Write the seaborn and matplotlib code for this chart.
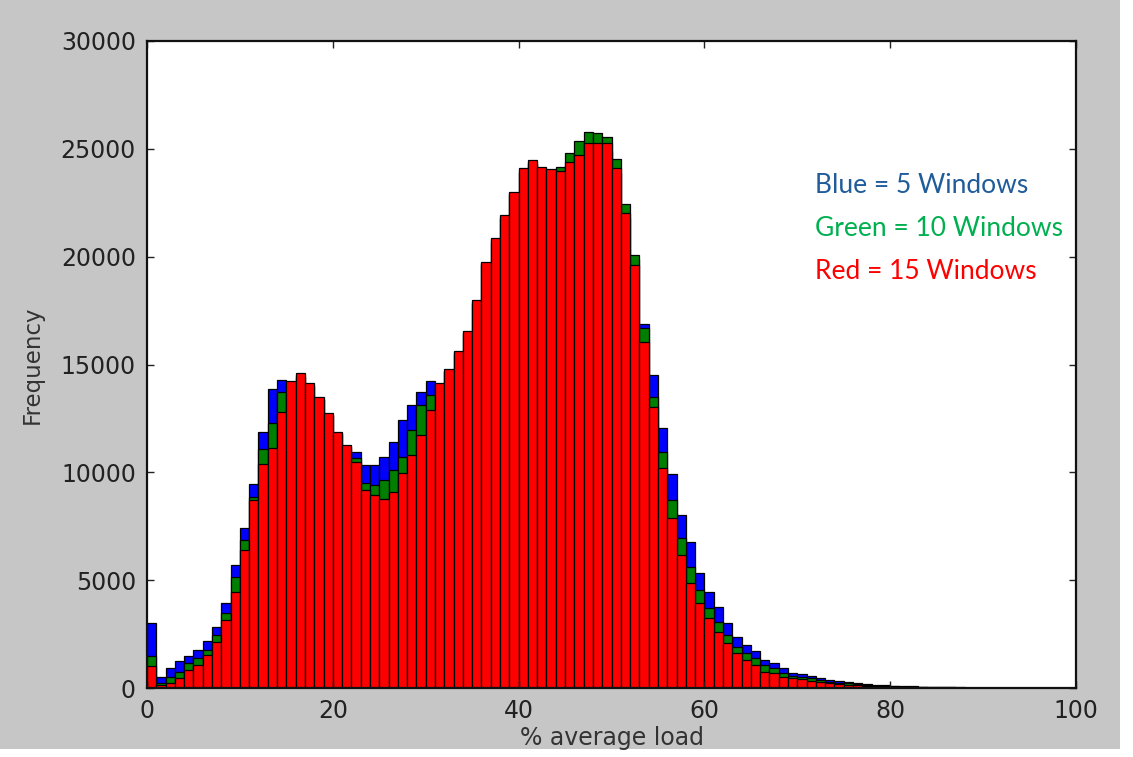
import numpy as np
import pandas as pd
import matplotlib
matplotlib.use("Agg")
import matplotlib.pyplot as plt
from matplotlib.patches import Rectangle
import seaborn as sns

# Histogram counts per 1% load bin (0-100) for each window setting
bin_edges = list(range(0, 101))

blue_5_windows = [
    3030, 500, 910, 1270, 1480, 1760, 2190, 2810, 3950, 5700,
    7400, 9460, 11880, 13850, 14280, 14100, 14400, 13950, 13350, 12600,
    11750, 11150, 10960, 10340, 10340, 10700, 11420, 12430, 13120, 13740,
    14250, 14100, 14650, 15500, 16400, 17800, 19600, 20700, 21750, 22850,
    23900, 24300, 23950, 23850, 23800, 24200, 24500, 25000, 25000, 24900,
    23900, 21800, 19900, 16880, 14510, 12040, 9920, 8020, 6780, 5320,
    4470, 3770, 3000, 2380, 1990, 1730, 1300, 1145, 910, 680,
    650, 555, 480, 370, 320, 270, 220, 180, 150, 120,
    100, 85, 70, 60, 50, 40, 32, 26, 20, 16,
    12, 10, 8, 6, 5, 4, 3, 2, 2, 1,
]

green_10_windows = [
    1480, 220, 530, 760, 1140, 1380, 1760, 2450, 3500, 5160,
    6860, 8870, 11100, 12270, 13740, 14150, 14500, 14050, 13420, 12680,
    11820, 11200, 10650, 9490, 9410, 9640, 10110, 10730, 11960, 13120,
    13590, 14100, 14700, 15580, 16500, 17900, 19700, 20800, 21850, 22950,
    24000, 24400, 24080, 24000, 24180, 24790, 25380, 25800, 25720, 25570,
    24510, 22440, 20080, 16690, 13510, 10960, 8720, 6940, 5620, 4540,
    3700, 3070, 2460, 1920, 1610, 1375, 1070, 910, 710, 555,
    525, 456, 390, 300, 250, 210, 170, 140, 110, 90,
    75, 62, 52, 44, 36, 30, 24, 19, 15, 12,
    9, 7, 6, 5, 4, 3, 2, 2, 1, 1,
]

red_15_windows = [
    1000, 140, 250, 450, 835, 1070, 1530, 2150, 3150, 4470,
    6400, 8720, 10400, 11110, 12810, 14250, 14600, 14150, 13510, 12750,
    11880, 11270, 10490, 9180, 8950, 8750, 9100, 9950, 10800, 11730,
    12890, 14160, 14780, 15640, 16570, 17990, 19770, 20850, 21930, 23010,
    24100, 24480, 24140, 24050, 23990, 24400, 24720, 25290, 25290, 25260,
    24100, 22010, 19610, 16060, 13020, 10190, 7870, 6170, 4850, 3930,
    3230, 2610, 2070, 1610, 1300, 1070, 760, 680, 525, 450,
    400, 340, 290, 220, 180, 150, 120, 95, 75, 60,
    50, 40, 33, 27, 22, 18, 14, 11, 9, 7,
    5, 4, 3, 3, 2, 2, 1, 1, 1, 0,
]

x_ticks = [0, 20, 40, 60, 80, 100]
y_ticks = [0, 5000, 10000, 15000, 20000, 25000, 30000]

legend_lines = ["Blue = 5 Windows", "Green = 10 Windows", "Red = 15 Windows"]
legend_colors = ["#1f5c99", "#00b050", "#ff0000"]

bin_centers = [e + 0.5 for e in bin_edges[:-1]]
df = pd.DataFrame({
    "load": bin_centers * 3,
    "count": blue_5_windows + green_10_windows + red_15_windows,
    "series": ["5"] * 100 + ["10"] * 100 + ["15"] * 100,
})

fig = plt.figure(figsize=(11.33, 7.57), dpi=100)
fig.patch.set_facecolor("white")
fig.patches.append(Rectangle((0, 8 / 757), 1120 / 1133, 1 - 8 / 757,
                             transform=fig.transFigure, facecolor="#c6c6c6",
                             edgecolor="none", zorder=-10))

ax = fig.add_axes([147 / 1133, 1 - 688 / 757, (1076 - 147) / 1133, (688 - 41) / 757])
ax.set_facecolor("white")

bar_colors = {"5": "#0000ff", "10": "#007f00", "15": "#ff0000"}
for key in ["5", "10", "15"]:
    sub = df[df["series"] == key]
    sns.histplot(data=sub, x="load", weights="count", bins=bin_edges,
                 stat="count", element="bars", fill=True, alpha=1.0,
                 color=bar_colors[key], edgecolor="black", linewidth=0.9,
                 ax=ax)

ax.set_xlim(0, 100)
ax.set_ylim(0, 30000)
ax.set_xticks(x_ticks)
ax.set_yticks(y_ticks)
ax.set_xticklabels([str(t) for t in x_ticks])
ax.set_yticklabels([str(t) for t in y_ticks])
ax.tick_params(direction="in", length=5, width=1, top=True, right=True,
               labelsize=17, colors="#222222", pad=8)
for s in ax.spines.values():
    s.set_linewidth(1.6)
    s.set_color("#111111")

ax.set_xlabel("% average load", fontsize=17, color="#333333", labelpad=2)
ax.set_ylabel("Frequency", fontsize=16.5, color="#333333", labelpad=12)

for i, (txt, col) in enumerate(zip(legend_lines, legend_colors)):
    ax.text(0.719, 0.776 - i * 0.066, txt, transform=ax.transAxes,
            fontsize=19, color=col, family="Lato", va="center", ha="left")

fig.savefig("out.png", dpi=100, facecolor=fig.get_facecolor())
